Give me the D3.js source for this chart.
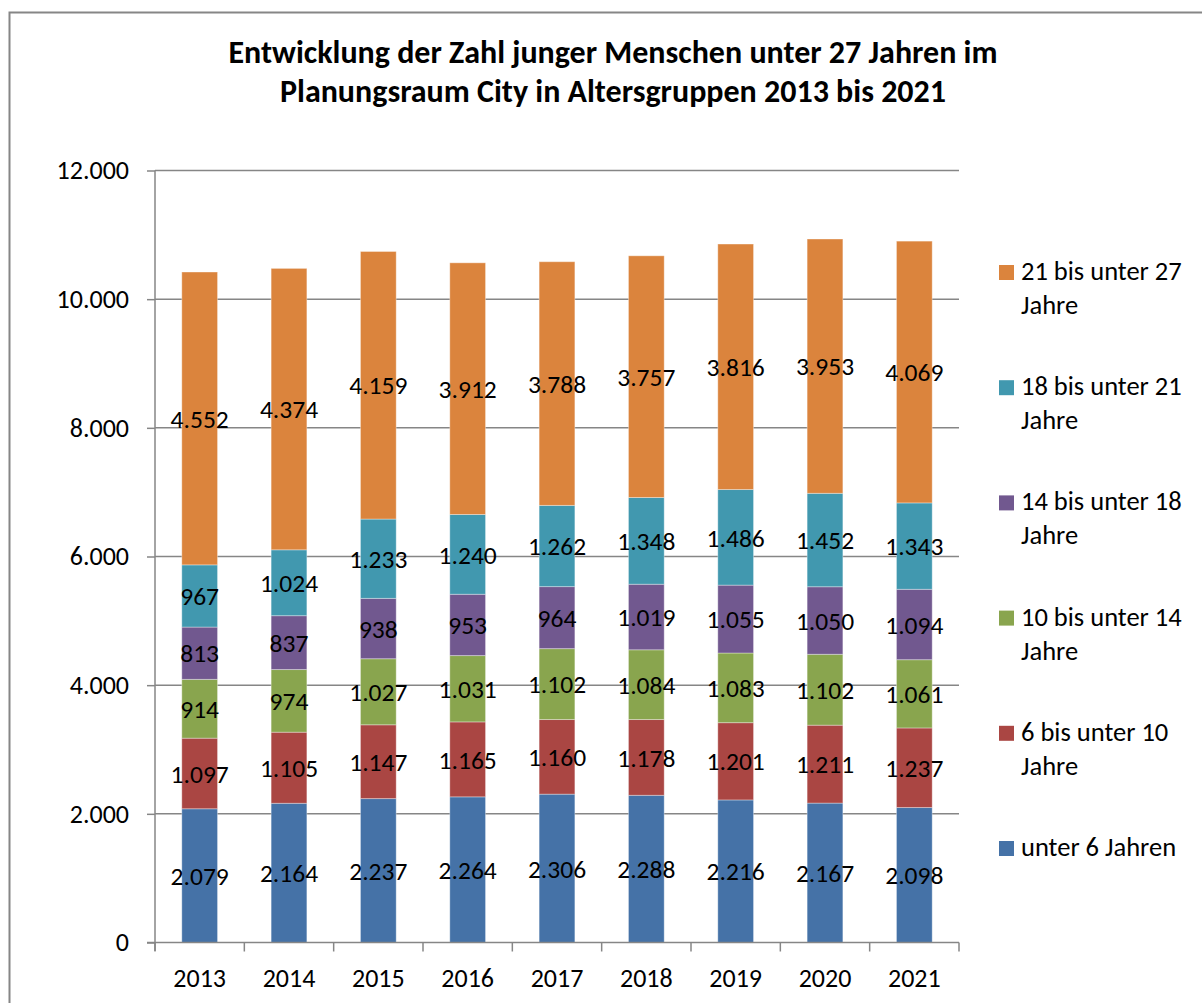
<!DOCTYPE html>
<html>
<head>
<meta charset="utf-8">
<script src="https://cdn.jsdelivr.net/npm/d3@7"></script>
<style>
  html, body { margin: 0; padding: 0; background: #fff; }
  svg { display: block; }
  text { font-family: Carlito, Lato, "Open Sans", sans-serif; fill: #000; }
</style>
</head>
<body>
<svg id="chart" width="1202" height="1003"></svg>
<script>
const years = ["2013","2014","2015","2016","2017","2018","2019","2020","2021"];
const seriesNames = ["unter 6 Jahren","6 bis unter 10 Jahre","10 bis unter 14 Jahre","14 bis unter 18 Jahre","18 bis unter 21 Jahre","21 bis unter 27 Jahre"];
const under6   = [2079, 2164, 2237, 2264, 2306, 2288, 2216, 2167, 2098];
const age6to10 = [1097, 1105, 1147, 1165, 1160, 1178, 1201, 1211, 1237];
const age10to14= [914, 974, 1027, 1031, 1102, 1084, 1083, 1102, 1061];
const age14to18= [813, 837, 938, 953, 964, 1019, 1055, 1050, 1094];
const age18to21= [967, 1024, 1233, 1240, 1262, 1348, 1486, 1452, 1343];
const age21to27= [4552, 4374, 4159, 3912, 3788, 3757, 3816, 3953, 4069];
const yTicks = [0, 2000, 4000, 6000, 8000, 10000, 12000];
const colors = ["#4572A7","#AA4643","#89A54E","#71588F","#4198AF","#DB843D"];
const titleLines = ["Entwicklung der Zahl junger Menschen unter 27 Jahren im",
                    "Planungsraum City in Altersgruppen 2013 bis 2021"];

const seriesValues = [under6, age6to10, age10to14, age14to18, age18to21, age21to27];
const rows = years.map((yr, i) => {
  const r = { year: yr };
  seriesNames.forEach((s, k) => r[s] = seriesValues[k][i]);
  return r;
});
const stacked = d3.stack().keys(seriesNames)(rows);

const de = d3.formatLocale({ decimal: ",", thousands: ".", grouping: [3], currency: ["", " €"] });
const fmt = de.format(",d");

const svg = d3.select("#chart");
const gray = "#868686";

// outer border
svg.append("rect").attr("x", 9.5).attr("y", 12.5).attr("width", 1200).attr("height", 1000)
  .attr("fill", "none").attr("stroke", gray).attr("stroke-width", 2);

// title
svg.append("g").selectAll("text").data(titleLines).join("text")
  .attr("x", 613).attr("y", (d, i) => 63 + i * 39)
  .attr("text-anchor", "middle").attr("font-size", 32).attr("font-weight", "bold")
  .text(d => d);

const x = d3.scaleBand().domain(years).range([155, 959]).paddingInner(0.6).paddingOuter(0.3);
const y = d3.scaleLinear().domain([0, 12000]).range([942.5, 170.5]);

// gridlines
svg.append("g").selectAll("line").data(yTicks.filter(t => t > 0)).join("line")
  .attr("x1", 155).attr("x2", 959).attr("y1", d => y(d)).attr("y2", d => y(d))
  .attr("stroke", gray).attr("stroke-width", 1.5);

// y axis
const yAxis = svg.append("g").attr("transform", "translate(155,0)")
  .call(d3.axisLeft(y).tickValues(yTicks).tickSize(8).tickPadding(18).tickFormat(fmt));
yAxis.select(".domain").attr("stroke", gray).attr("stroke-width", 1.5)
  .attr("d", `M0,${y(12000)}V951`);
yAxis.selectAll(".tick line").attr("stroke", gray).attr("stroke-width", 1.5);
yAxis.selectAll(".tick text").attr("font-size", 26).attr("font-family", null).attr("fill", "#000");

// bars
const layers = svg.append("g").selectAll("g").data(stacked).join("g")
  .attr("fill", (d, i) => colors[i]);
layers.selectAll("rect").data(d => d).join("rect")
  .attr("x", d => x(d.data.year)).attr("width", x.bandwidth())
  .attr("y", d => y(d[1])).attr("height", d => y(d[0]) - y(d[1]))
  .attr("stroke", "#ffffff").attr("stroke-opacity", 0.35).attr("stroke-width", 1);

// x axis
const xAxis = svg.append("g").attr("transform", `translate(0,${y(0)})`)
  .call(d3.axisBottom(x).tickSize(0).tickPadding(26));
xAxis.select(".domain").attr("stroke", gray).attr("stroke-width", 1.5).attr("d", "M147,0H959");
xAxis.selectAll(".tick text").attr("font-size", 26).attr("font-family", null).attr("fill", "#000");
// category separators
const sepX = i => i === 0 ? 155 : (i === years.length ? 959 : x(years[i]) - (x.step() - x.bandwidth()) / 2);
xAxis.append("g").selectAll("line").data(d3.range(years.length + 1)).join("line")
  .attr("x1", sepX).attr("x2", sepX)
  .attr("y1", 0).attr("y2", 9).attr("stroke", gray).attr("stroke-width", 1.5);

// data labels
const labelG = svg.append("g");
stacked.forEach((layer) => {
  labelG.append("g").selectAll("text").data(layer).join("text")
    .attr("x", d => x(d.data.year) + x.bandwidth() / 2)
    .attr("y", d => (y(d[0]) + y(d[1])) / 2)
    .attr("dy", "0.36em").attr("text-anchor", "middle").attr("font-size", 25.5)
    .text(d => fmt(d[1] - d[0]));
});

// legend (reverse order)
const legendItems = seriesNames.map((n, i) => ({ name: n, color: colors[i] })).reverse();
const lg = svg.append("g").selectAll("g").data(legendItems).join("g")
  .attr("transform", (d, i) => `translate(999,${272.5 + i * 115.2})`);
lg.append("rect").attr("x", 0).attr("y", -7.5).attr("width", 15).attr("height", 15).attr("fill", d => d.color);
lg.each(function(d) {
  const parts = d.name.endsWith(" Jahre") ? [d.name.slice(0, -6), "Jahre"] : [d.name];
  d3.select(this).selectAll("text").data(parts).join("text")
    .attr("x", 22).attr("y", (p, i) => 7.5 + i * 34).attr("font-size", 26.5).text(p => p);
});
</script>
</body>
</html>
